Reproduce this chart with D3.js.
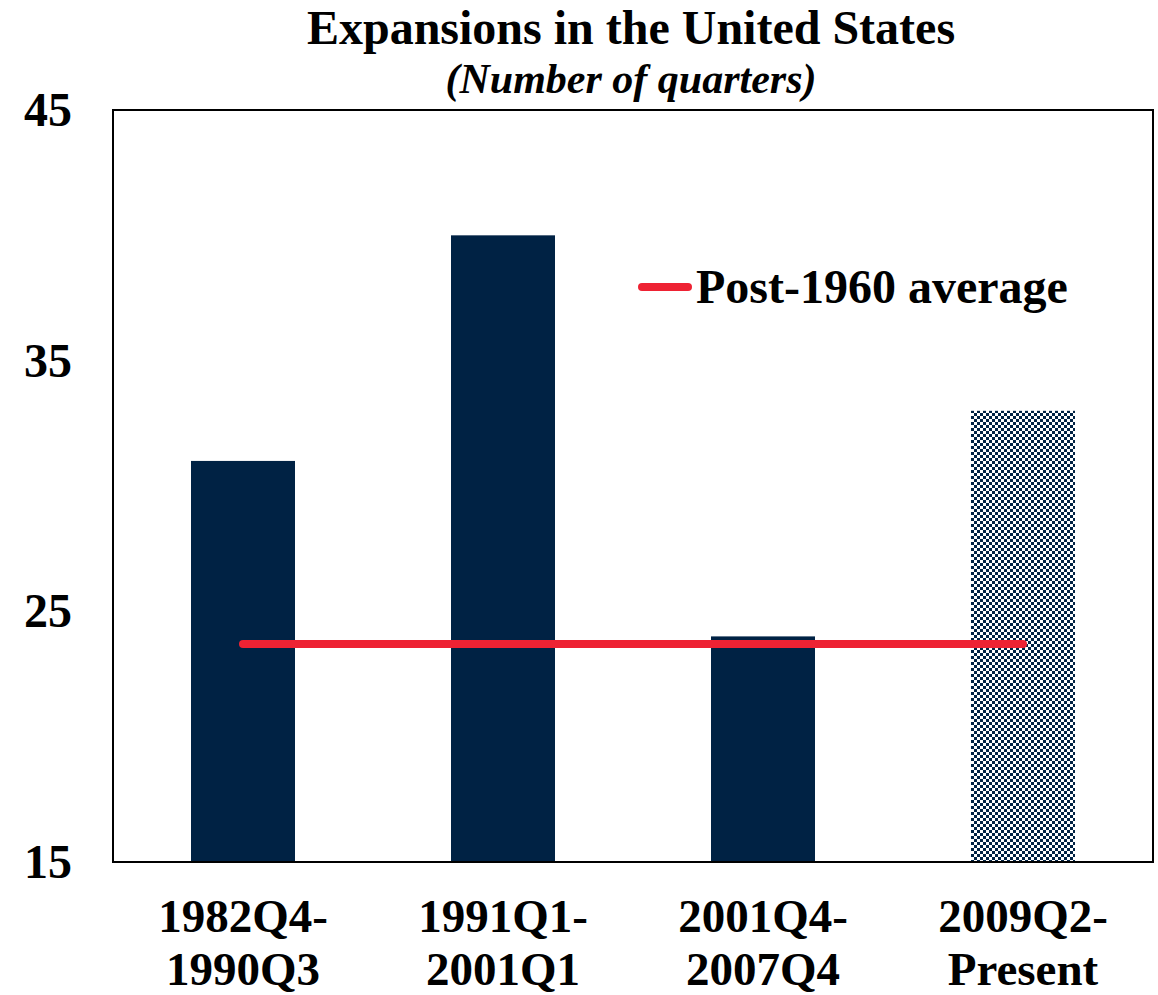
<!DOCTYPE html>
<html>
<head>
<meta charset="utf-8">
<script src="https://d3js.org/d3.v7.min.js"></script>
<style>
  body { margin: 0; background: #fff; }
  svg text { font-family: "Liberation Serif", "Times New Roman", serif; font-weight: bold; fill: #000; }
</style>
</head>
<body>
<svg width="1158" height="995"></svg>
<script>
var periods = [["1982Q4-", "1990Q3"], ["1991Q1-", "2001Q1"], ["2001Q4-", "2007Q4"], ["2009Q2-", "Present"]];
var quarters = [31, 40, 24, 33];
var ongoing = [false, false, false, true];
var post1960avg = 23.7;
var yTicks = [15, 25, 35, 45];

var svg = d3.select("svg"),
    margin = {top: 110, right: 5, bottom: 133, left: 113},
    width = +svg.attr("width") - margin.left - margin.right,
    height = +svg.attr("height") - margin.top - margin.bottom;

var navy = "#002244", red = "#ee2233";

var x = d3.scaleBand().domain(d3.range(periods.length)).range([0, width]).paddingInner(0.6).paddingOuter(0.3),
    y = d3.scaleLinear().domain([15, 45]).range([height, 0]);

// checker pattern for the current expansion
var pat = svg.append("defs").append("pattern")
    .attr("id", "checker")
    .attr("patternUnits", "userSpaceOnUse")
    .attr("width", 6).attr("height", 6);
pat.append("rect").attr("width", 6).attr("height", 6).attr("fill", "#fff");
pat.append("rect").attr("width", 3).attr("height", 3).attr("fill", navy);
pat.append("rect").attr("x", 3).attr("y", 3).attr("width", 3).attr("height", 3).attr("fill", navy);

svg.append("text")
    .attr("x", 631).attr("y", 44)
    .attr("text-anchor", "middle")
    .style("font-size", "48px")
    .text("Expansions in the United States");
svg.append("text")
    .attr("x", 631).attr("y", 93)
    .attr("text-anchor", "middle")
    .style("font-size", "42px")
    .style("font-style", "italic")
    .text("(Number of quarters)");

var g = svg.append("g")
    .attr("transform", "translate(" + margin.left + "," + margin.top + ")");

g.selectAll(".bar")
  .data(quarters)
  .enter().append("rect")
    .attr("class", "bar")
    .attr("x", function(d, i) { return x(i); })
    .attr("y", function(d) { return y(d); })
    .attr("width", x.bandwidth())
    .attr("height", function(d) { return height - y(d); })
    .attr("fill", function(d, i) { return ongoing[i] ? "url(#checker)" : navy; });

// average line spans first to last bar centers
var line = d3.line()
    .x(function(d) { return x(d) + x.bandwidth() / 2; })
    .y(function() { return y(post1960avg); });
g.append("path")
    .datum([0, periods.length - 1])
    .attr("d", line)
    .style("stroke", red)
    .style("fill", "none")
    .style("stroke-width", "8px")
    .style("stroke-linecap", "round");

// plot frame
g.append("rect")
    .attr("width", width).attr("height", height)
    .attr("fill", "none")
    .attr("stroke", "#000")
    .attr("stroke-width", 2);

var yAxis = g.append("g")
    .call(d3.axisLeft(y).tickValues(yTicks).tickSize(0).tickPadding(41));
yAxis.select(".domain").remove();
yAxis.selectAll("text")
    .style("font-size", "48px")
    .style("font-family", "Liberation Serif, serif")
    .attr("fill", "#000");

var xAxis = g.append("g")
    .attr("transform", "translate(0," + height + ")")
    .call(d3.axisBottom(x).tickSize(0).tickFormat(""));
xAxis.select(".domain").remove();
xAxis.selectAll(".tick").each(function(d) {
  var t = d3.select(this).append("text")
      .attr("text-anchor", "middle")
      .style("font-size", "47px");
  t.append("tspan").attr("x", 0).attr("y", 70).text(periods[d][0]);
  t.append("tspan").attr("x", 0).attr("y", 123).text(periods[d][1]);
});

// legend
var lg = g.append("g").attr("transform", "translate(527," + 177 + ")");
lg.append("line")
    .attr("x1", 2).attr("x2", 48)
    .style("stroke", red).style("stroke-width", "8px").style("stroke-linecap", "round");
lg.append("text")
    .attr("x", 56).attr("y", 16)
    .style("font-size", "48px")
    .text("Post-1960 average");
</script>
</body>
</html>
